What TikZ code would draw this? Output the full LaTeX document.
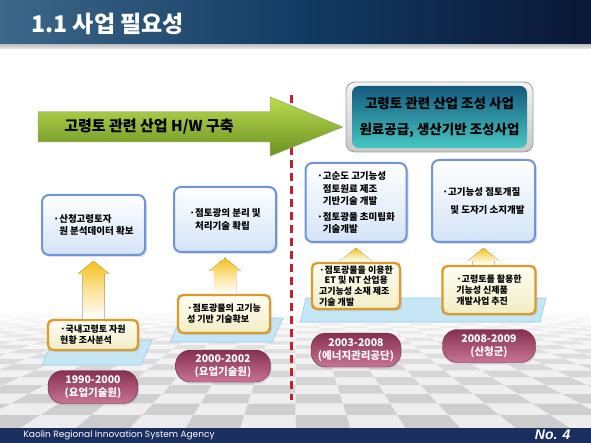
\documentclass[tikz,border=0pt]{standalone}
\usepackage{fontspec}
\setmainfont{Noto Sans CJK KR}
\newfontfamily\footfont{Poppins}
\newfontfamily\numfont{Liberation Sans}
\usepackage{xcolor}
\usetikzlibrary{calc,shadows}

\definecolor{titleL}{HTML}{3E6889}
\definecolor{titleM}{HTML}{123C63}
\definecolor{titleR}{HTML}{0B1736}
\definecolor{footnavy}{HTML}{1B2F5F}
\definecolor{hwTop}{HTML}{BCDB50}
\definecolor{hwBot}{HTML}{6A9222}
\definecolor{frameTop}{HTML}{F5F5F5}
\definecolor{frameBot}{HTML}{C8C8C8}
\definecolor{frameLine}{HTML}{9C9C9C}
\definecolor{goalTop}{HTML}{155A7E}
\definecolor{goalBot}{HTML}{46C6C2}
\definecolor{boxLine}{HTML}{6F94D8}
\definecolor{boxFill}{HTML}{D3E4F7}
\definecolor{ornLine}{HTML}{DB9A2D}
\definecolor{ornTop}{HTML}{FFFEF2}
\definecolor{ornBot}{HTML}{F1EDC6}
\definecolor{pillTop}{HTML}{86304F}
\definecolor{pillBot}{HTML}{C87493}
\definecolor{platFill}{HTML}{C5E7F5}
\definecolor{platLine}{HTML}{99CDE4}
\definecolor{divRed}{HTML}{C41F2C}
\definecolor{riseYel}{HTML}{F6C11A}

\newcommand\bulind{\phantom{·}}
% yellow arrow from a lower box up to a box above it
\newcommand\riseArrow[2]{%
  \fill[rise] let \p1=(#1.north), \p2=(#2.south) in
    (\x2-11pt,\y1) -- (\x2-11pt,\y2-18pt) -- (\x2-16pt,\y2-18pt) -- (\x2,\y2-5pt)
    -- (\x2+16pt,\y2-18pt) -- (\x2+11pt,\y2-18pt) -- (\x2+11pt,\y1) -- cycle;
}

\begin{document}
\begin{tikzpicture}[x=1pt,y=-1pt,
  techbox/.style={draw=boxLine,line width=2pt,rounded corners=7pt,top color=white,bottom color=boxFill,
    align=left,font=\bfseries\fontsize{9.5}{12.5}\selectfont,
    drop shadow={opacity=0.25,shadow xshift=2pt,shadow yshift=-2pt}},
  basebox/.style={draw=ornLine,line width=2.4pt,rounded corners=5pt,top color=ornTop,bottom color=ornBot,
    align=left,font=\bfseries\fontsize{9}{10.8}\selectfont,inner sep=2pt,
    drop shadow={opacity=0.2,shadow xshift=2pt,shadow yshift=-2pt}},
  period/.style={rounded corners=15pt,top color=pillTop,bottom color=pillBot,draw=pillTop!80!black,
    text=white,align=center,font=\bfseries\fontsize{10.5}{12.5}\selectfont,
    drop shadow={opacity=0.2,shadow xshift=1pt,shadow yshift=-2pt}},
  platform/.style={fill=platFill,draw=platLine,line width=0.6pt},
  rise/.style={top color=riseYel,bottom color=white,middle color=riseYel!45!white},
  hwarrow/.style={top color=hwTop,bottom color=hwBot,draw=hwBot!70!white,line width=0.5pt},
  divider/.style={divRed,line width=3pt,dash pattern=on 8pt off 5pt}]

  \useasboundingbox (0,0) rectangle (591,443);
  \fill[white] (0,0) rectangle (591,443);

  % floor
  \begin{scope}
    \clip (0,290) rectangle (591,428);
    \foreach \j in {0,...,31}{
      \foreach \c in {-20,...,19}{
        \pgfmathsetmacro\za{1+0.08*\j}
        \pgfmathsetmacro\zb{1+0.08*(\j+1)}
        \pgfmathsetmacro\ya{250+178/\za}
        \pgfmathsetmacro\yb{250+178/\zb}
        \pgfmathsetmacro\tone{ifthenelse(mod(\c+\j+40,2)==0,20,7)*max(0,1-\j/24)}
        \fill[black!\tone!white] (295.5+\c*55/\za,\ya) -- (295.5+\c*55/\za+55/\za,\ya)
          -- (295.5+\c*55/\zb+55/\zb,\yb) -- (295.5+\c*55/\zb,\yb) -- cycle;
      }
    }
  \end{scope}

  % title and footer bars
  \fill[left color=titleL,right color=titleR,middle color=titleM] (0,0) rectangle (591,45);
  \fill[top color=gray!45,bottom color=gray!15] (0,45) rectangle (591,49);
  \node[anchor=west,text=white,font=\bfseries\fontsize{23}{23}\selectfont] (title) at (28,24) {1.1 사업 필요성};
  \fill[footnavy] (0,428) rectangle (591,443);
  \node[anchor=west,text=white,font=\footfont\fontsize{9}{9}\selectfont] (agency) at (20,435.5) {Kaolin Regional Innovation System Agency};
  \node[anchor=east,text=white,font=\numfont\bfseries\itshape\fontsize{14}{14}\selectfont] (pageno) at (574,435) {No. 4};

  \draw[divider] (291,95) -- (291,400);

  % goal
  \node[top color=frameTop,bottom color=frameBot,draw=frameLine,line width=0.8pt,rounded corners=9pt,
    minimum width=187,minimum height=70] (frame) at (439.5,117) {};
  \node[top color=goalTop,bottom color=goalBot,rounded corners=7pt,minimum width=175,minimum height=62,
    align=center,font=\bfseries\fontsize{13.5}{26}\selectfont] (goal) at (frame) {고령토 관련 산업 조성 사업\\원료공급, 생산기반 조성사업};

  \coordinate (tip) at ($(frame.west)+(-3,10)$);
  \fill[hwarrow] (38,112) -- (270,112) -- (270,97) -- (tip) -- (270,156) -- (270,142) -- (38,142) -- cycle;
  \node[font=\bfseries\fontsize{15}{15}\selectfont] (hw) at (149,127) {고령토 관련 산업 H/W 구축};

  % platforms
  \fill[platform] (42,365) -- (141,365) -- (152,340) -- (53,340) -- cycle;
  \fill[platform] (170,342) -- (272,342) -- (283,318) -- (181,318) -- cycle;
  \fill[platform] (300,322) -- (540,322) -- (546,298) -- (306,298) -- cycle;

  % upper boxes
  \node[techbox,minimum width=103,minimum height=60] (b1) at (93.5,225) {·산청고령토자\\\bulind 원 분석데이터 확보};
  \node[techbox,minimum width=102,minimum height=65] (b2) at (225,219.5) {·점토광의 분리 및\\\bulind 처리기술 확립};
  \node[techbox,minimum width=101,minimum height=79] (b3) at (356,202.5) {·고순도 고기능성\\\bulind 점토원료 제조\\\bulind 기반기술 개발\\[3pt]·점토광물 초미립화\\\bulind 기술개발};
  \node[techbox,minimum width=103,minimum height=82] (b4) at (483.5,201) {·고기능성 점토개질\\[5pt]\bulind\ 및 도자기 소지개발};

  % lower boxes
  \node[basebox,minimum width=90,minimum height=30] (o1) at (93,335) {·국내고령토 자원\\현황 조사분석};
  \node[basebox,minimum width=92,minimum height=38] (o2) at (224,314) {·점토광물의 고기능\\성 기반 기술확보};
  \node[basebox,minimum width=88,minimum height=46] (o3) at (356,286) {·점토광물을 이용한\\\bulind ET 및 NT 산업용\\고기능성 소재 제조\\기술 개발};
  \node[basebox,minimum width=93,minimum height=48] (o4) at (489,290) {·고령토를 활용한\\기능성 신제품\\개발사업 추진};

  \riseArrow{o1}{b1}
  \riseArrow{o2}{b2}
  \riseArrow{o3}{b3}
  \riseArrow{o4}{b4}

  % periods
  \node[period,minimum width=90,minimum height=33] (p1) at (93,387) {1990-2000\\(요업기술원)};
  \node[period,minimum width=95,minimum height=32] (p2) at (223,366) {2000-2002\\(요업기술원)};
  \node[period,minimum width=90,minimum height=34] (p3) at (356,350) {2003-2008\\(에너지관리공단)};
  \node[period,minimum width=93,minimum height=33] (p4) at (489,346) {2008-2009\\(산청군)};
\end{tikzpicture}
\end{document}
